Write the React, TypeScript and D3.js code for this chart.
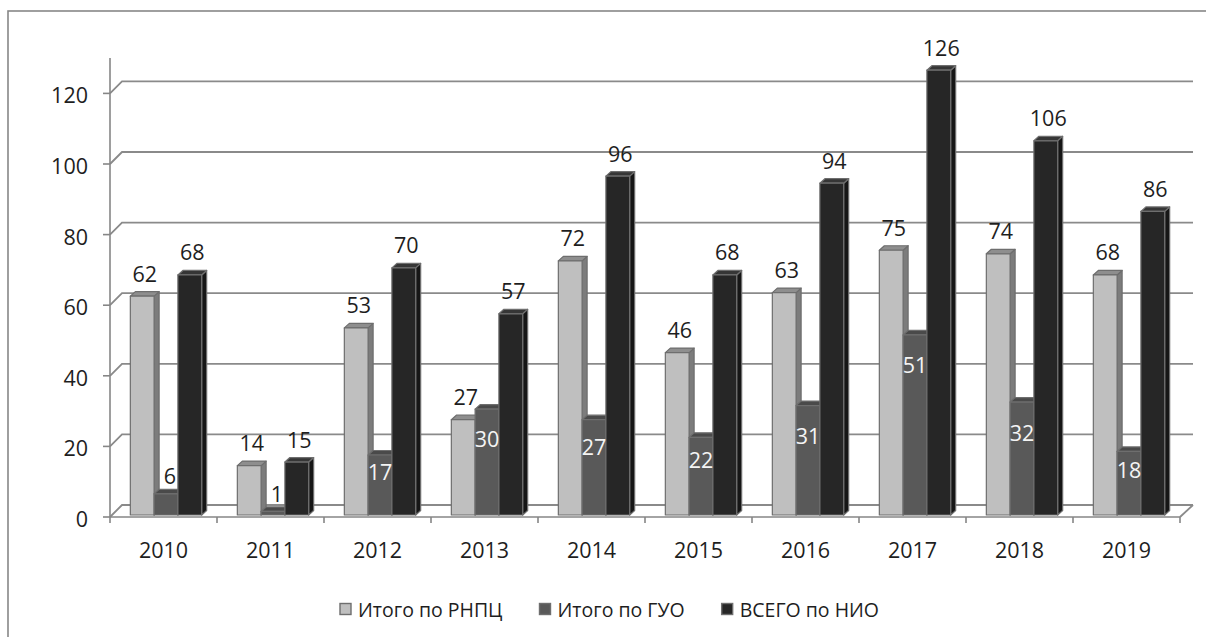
import React, { useEffect, useRef } from "react";
import * as d3 from "d3";

// Categories and series values
const years = ["2010", "2011", "2012", "2013", "2014", "2015", "2016", "2017", "2018", "2019"];
const rnpc = [62, 14, 53, 27, 72, 46, 63, 75, 74, 68];
const gyo = [6, 1, 17, 30, 27, 22, 31, 51, 32, 18];
const nio = [68, 15, 70, 57, 96, 68, 94, 126, 106, 86];
const seriesNames = ["Итого по РНПЦ", "Итого по ГУО", "ВСЕГО по НИО"];
const yTicks = [0, 20, 40, 60, 80, 100, 120];

const W = 1206;
const H = 637;
const FONT = "'Open Sans', Lato, sans-serif";
const FS = 21.5;
const LEG_FS = 19.5;
const INK = "#1e1e1e";

// Per-series face colours: front, top, side
const faces = [
  { front: "#bfbfbf", top: "#8e8e8e", side: "#7c7c7c" },
  { front: "#595959", top: "#4a4a4a", side: "#3c3c3c" },
  { front: "#262626", top: "#363636", side: "#161616" },
];

export default function App() {
  const ref = useRef<SVGSVGElement>(null);

  useEffect(() => {
    const svg = d3.select(ref.current);
    svg.selectAll("*").remove();

    const series = [rnpc, gyo, nio];

    // 3D projection offsets
    const WX = 12, WY = -12;   // full floor depth
    const FX = 2.5, FY = -2;   // bar front plane inside the floor
    const BX = 5, BY = -4.5;   // bar depth

    const x0 = 110, x1 = 1180, yBase = 517;
    const x = d3.scaleBand<string>().domain(years).range([x0, x1]).padding(0);
    const inner = d3.scaleBand<number>().domain([0, 1, 2]).range([0, x.bandwidth()]).paddingInner(0).paddingOuter(0.75);
    const y = d3.scaleLinear().domain([0, 120]).range([yBase, yBase - 120 * 3.53]);

    const axisColor = "#868686";

    // Chart frame
    svg.append("rect").attr("x", 8).attr("y", 11).attr("width", 1400).attr("height", 800)
      .attr("fill", "white").attr("stroke", "#878787").attr("stroke-width", 1.6);

    // Gridlines on the back wall, with the diagonal from the axis
    const grid = svg.append("g").attr("stroke", "#8a8a8a").attr("stroke-width", 1.8).attr("fill", "none");
    yTicks.forEach((t) => {
      const yf = y(t);
      grid.append("path").attr("d", `M${x0},${yf} L${x0 + WX},${yf + WY} L${x1 + WX + 1},${yf + WY}`);
    });
    // Floor outline
    grid.append("path").attr("d", `M${x1},${yBase} L${x1 + WX + 1},${yBase + WY}`);

    // Value axis
    const ax = svg.append("g").attr("stroke", axisColor).attr("stroke-width", 1.6);
    ax.append("line").attr("x1", x0).attr("x2", x0).attr("y1", 58).attr("y2", yBase);
    yTicks.forEach((t) => {
      ax.append("line").attr("x1", x0 - 7).attr("x2", x0).attr("y1", y(t)).attr("y2", y(t));
    });
    // Category axis
    ax.append("line").attr("x1", x0).attr("x2", x1).attr("y1", yBase).attr("y2", yBase);
    d3.range(years.length + 1).forEach((i) => {
      const xx = x0 + i * x.step();
      ax.append("line").attr("x1", xx).attr("x2", xx).attr("y1", yBase).attr("y2", yBase + 6);
    });

    // Tick labels
    svg.append("g").selectAll("text").data(yTicks).join("text")
      .attr("x", 88).attr("y", (d) => y(d) + 1.5)
      .attr("text-anchor", "end").attr("dominant-baseline", "central")
      .attr("font-family", FONT).attr("font-size", FS).attr("fill", INK)
      .text((d) => d);

    svg.append("g").selectAll("text").data(years).join("text")
      .attr("x", (d) => (x(d) as number) + x.bandwidth() / 2).attr("y", 549)
      .attr("text-anchor", "middle").attr("dominant-baseline", "central")
      .attr("font-family", FONT).attr("font-size", FS).attr("fill", INK)
      .text((d) => d);

    // Bars
    const bars = svg.append("g").attr("stroke", "#6e6e6e").attr("stroke-width", 1.2).attr("stroke-linejoin", "round");
    const labels: { x: number; y: number; text: string; fill: string }[] = [];
    years.forEach((yr, i) => {
      series.forEach((vals, s) => {
        const v = vals[i];
        const left = (x(yr) as number) + (inner(s) as number) + FX;
        const right = left + inner.bandwidth();
        const bot = yBase + FY;
        const top = y(v) + FY;
        const c = faces[s];
        const g = bars.append("g");
        g.append("path").attr("fill", c.side)
          .attr("d", `M${right},${top} L${right + BX},${top + BY} L${right + BX},${bot + BY} L${right},${bot} Z`);
        g.append("path").attr("fill", c.top)
          .attr("d", `M${left},${top} L${left + BX},${top + BY} L${right + BX},${top + BY} L${right},${top} Z`);
        g.append("rect").attr("fill", c.front)
          .attr("x", left).attr("y", top).attr("width", right - left).attr("height", bot - top);

        const cxm = (left + right) / 2;
        if (s === 1) {
          const h = bot - top;
          if (v < 10) labels.push({ x: cxm + 4, y: top - 18, text: String(v), fill: INK });
          else labels.push({ x: cxm, y: top + Math.min(30, h * 0.28), text: String(v), fill: "#f4f4f4" });
        } else {
          labels.push({ x: cxm + 2.5, y: top - 23, text: String(v), fill: INK });
        }
      });
    });

    svg.append("g").selectAll("text").data(labels).join("text")
      .attr("x", (d) => d.x).attr("y", (d) => d.y)
      .attr("text-anchor", "middle").attr("dominant-baseline", "central")
      .attr("font-family", FONT).attr("font-size", FS).attr("fill", (d) => d.fill)
      .text((d) => d.text);

    // Legend
    const leg = svg.append("g");
    let lx = 340;
    seriesNames.forEach((name, s) => {
      leg.append("rect").attr("x", lx).attr("y", 603.5).attr("width", 11).attr("height", 11)
        .attr("fill", faces[s].front).attr("stroke", "#6e6e6e").attr("stroke-width", 1.4);
      const t = leg.append("text").attr("x", lx + 18).attr("y", 609.5)
        .attr("dominant-baseline", "central")
        .attr("font-family", FONT).attr("font-size", LEG_FS).attr("fill", INK)
        .text(name);
      const w = (t.node() as SVGTextElement).getComputedTextLength();
      lx += 18 + w + 37;
    });
  }, []);

  return (
    <svg
      ref={ref}
      width={W}
      height={H}
      style={{ position: "fixed", left: 0, top: 0, background: "white" }}
    />
  );
}
